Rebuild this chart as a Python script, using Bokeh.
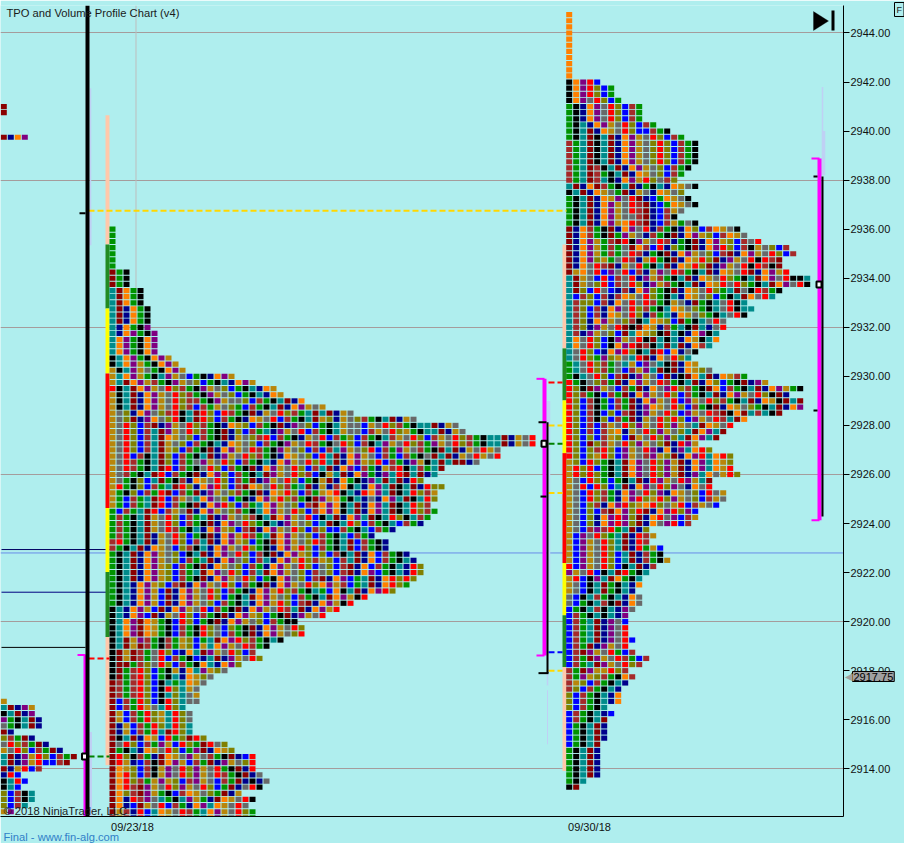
from bokeh.plotting import figure
from bokeh.models import Range1d, FixedTicker, NumeralTickFormatter, Label, PolyAnnotation
from bokeh.embed import file_html
from bokeh.resources import INLINE

# ---------- data ----------
TITLE = "TPO and Volume Profile Chart (v4)"
COPYRIGHT = "\u00a9 2018 NinjaTrader, LLC"
FOOTER = "Final - www.fin-alg.com"
DATE_LABELS = ["09/23/18", "09/30/18"]
LAST_PRICE = 2917.75
PRICE_TICKS = [2912 + 2 * i for i in range(17)]
GRID_PRICES = [2914, 2920, 2926, 2932, 2938, 2944]

PALETTE = {"k": "#000000", "g": "#009300", "r": "#FF0000", "b": "#0000FF", "n": "#00008B",
           "d": "#8B0000", "w": "#A52A2A", "t": "#008B8B", "o": "#FF8000", "p": "#800080",
           "a": "#B8860B", "l": "#808000", "y": "#696969"}

# earlier session fragments
TOP_FRAG_PRICE = [2941.0, 2940.75, 2939.75]
TOP_FRAG = ["d", "d", "dnop"]
LOW_TOP = 2916.75
LOW_ROWS = ["a", "tdnpa", "ktdnp", "pgktdn", "ygktdn", "dn", "lwgdn", "yrlwgdn", "ayrlbwgdn",
            "tdnparlbwgd", "tdnparbbwd", "dnarbw", "nrb", "ktrb", "ktb", "lbwkt", "lbwkt", "lbwt", "ap"]

# session 09/23/18
LEFT_TOP = 2936.0
LEFT_LEN = [1]*7 + [3]*3 + [5]*3 + [6]*3 + [6, 7, 7, 7, 7, 9, 10, 11, 18, 21, 24, 25, 28,
    31, 35, 44, 50, 51, 61, 61, 56, 56, 53, 48, 47, 45, 48, 47, 47, 46, 47, 46, 45, 41, 38, 40, 40,
    43, 44, 45, 45, 44, 43, 41, 37, 35, 33, 31, 27, 28, 28, 25, 23, 21, 22, 19, 17, 15, 14, 13, 13, 13,
    11, 12, 12, 12, 12, 14, 17, 18, 21, 21, 21, 22, 23, 22, 19, 21, 20, 21, 21]
LEFT_ROWS = ["g"]*7 + ["dgk"]*3 + ["tdogk"]*3 + ["tdnogk"]*3 + ["tnogkp", "tnopgkp"] + ["topgkop"]*3 + [
    "ktopgkopa", "ktopagkopa", "aktpaygkopa", "atopagktpaybgknopa", "atdopawgkpaylbgktnopa",
    "rktdopayrlwgkpaylbgktnoa", "aktdnopayrlwgkpaylbgktnoa", "aktdnopayrlwwgkpayylbwgktdno",
    "aktdnopayrlwbwgaylgbwgktdnopay",
    "aylnopylwrktdrlbrwgkdnayrlwgtdtdnay",
    "ayldnpoylrktdrlbwgknoayrbwgktdalnaylwgktdnay",
    "ayrlbwdnpayrlwgknoalbwgkdnpylbgktayybayrlwgkttdnay",
    "ayrlbwtdpayrlwgkdnlbwgtnpayrbwgktayybwayrlagkttdnay",
    "ayrlbwtdoaylbwgkdnaylwrbwgknayrbwglbwgktwayrlbwayrlwgkttdnayr",
    "ayrlbwtdaylbwgktnoaylbwgkpayrwgkyrlbwktpayrlwgpayrlwgkttdnayr",
    "ayrlbwtdalbwgkdnopayrwgkpaylbwbwtpaylrbwgpaywgkdtdnayr",
    "ayrbwktdlbwgktdnpayrlwgknoaylbrtdnopaybwgbwgkydtdnayr",
    "ayrwgktdlbwgypayrlbwgktnopayrlrtdnopalrbwgnpaktdtddnyr",
    "ayrwgktdrbwgkyrlbwgkdnopayrlbwtdnopbwgnawrktwgtdbnr",
    "aywgktdrbwgkdnoplbwgktdpayrlwbkatdnopgnptrdtdntdl",
    "aygklbtdgkwnoayrlbwgdnpayrlbgkadnogknptdtdnrl",
    "argklbwgtdrlnoprlbwdoayrlwgtdnanwoktnoptdktdnrllw",
    "agklbwgrdbwgdnpaylwgkdnoarlbwgaorktnroptdktrlw",
    "agbwgtdrbwaytopylbgknoparlwgkdpaogktnynoptdktrlw",
    "agbwgtdrbwgkdnoprlbwgtopaylbwdopoktdnoptdktrlw",
    "gbwgtdrbwaydnopaylwgktopayrlbwopoktdnoptdktrlwg",
    "gwgktdayrlbwgtdnpaylwktdopayrbktdnoptdktrlktwg",
    "gwgktdayrlbwgkdnopyrlgktnpaylbtdktrlbwgktbwgn",
    "gwgktdayrwgktnopalbwdnopayrlbwlbbwgktbwgn",
    "gwgktdnayrlbgkdnoparwgtdopaylbwgktbwgn",
    "wrgktdnayrlbwtdnopalbgkdopaylrwgktdbwgkn",
    "wgktdnoayblwktnopayrlgknoparlbwgktdbwgkn",
    "gktdnopaylbktdnopyrlbwkdnopalblbwktdnobwgkn",
    "gktdnopaylbwgtdnopylbwtnoparlwalbwtdnobwgktn",
    "gktdnopalbwgkdnoaylbwgnopayrlbylbwdnobwgktnrl",
    "gktdnopalbwgtdopyrlbwtdopaylbwylbwdnopbgktnrl",
    "gktdnopalbwgkdnopayrlbgkopylbwdnopbgtdnorlrl",
    "gktnopalbwdnopayrlbwgkdnopayrlopawbgtdnorl",
    "gktnopabdnopayrlbwgknoparlwgktgboktdnoprl",
    "gktnopabdnopayrlbgktdopaylbwgktdopakrl",
    "gktnopabdnopaylbwgktnoparlbwdnopakrl",
    "ktnopabdnopayrbwgkdnopayrwtdnopar",
    "ktnopbdnayrlbwgkdnopalbgkdnpayrl",
    "ktopdoagkbrlbgkdnopaylbwgk",
    "ktopdoagkbwgkrlyblgkdnopayrlb",
    "ktopdoagkbwgkrlybwgkdnopaylrb",
    "ktdapwgkwgalbgtdoprlwgkt",
    "ktdadwgkwgalbatopayrwgk",
    "kdadwgyrlbnotdpayrlbw",
    "kdadwgyrbwgkbntdnpayrl",
    "kddgwlyrlbwgkotnopl",
    "kdgwrlbgkanotpaly",
    "kdgwrlbgktnoalyy",
    "dwgwrlbktgtoayy",
    "dwgwrlbkrltay",
    "dwgwrlbktltya",
    "dbwgrlbkrltyy",
    "dbwgraytrlt",
    "dabwgrlatrly",
    "dabwgrlatrly",
    "dnabwgrltrlt",
    "dnabwgrtdrlt",
    "dktdnoabrgldrl",
    "dyrlbwgpabrlgdryl",
    "dgktnoayrlbgpdnoal",
    "drlkwgndoaypaywgkdnbr",
    "dranbwkdopabwgdnpaylr",
    "doalbwkapyrlpayrgkdnr",
    "dorlbwkapyrlpayrwgkdnyr",
    "dorlwgapalbwpaybwgdnknyr",
    "dorwdpayrlpayrlbgdnyrk",
    "dolwdpagkbwoaylgdnayr",
    "donrwpytgktpagndoayrk",
    "donbdayrbwgnoptoayry",
    "dawnrbtoayrwgtopayrlg",
    "dawnrbtoayrwgtopayrlg"]

# session 09/30/18
RIGHT_TOP = 2944.75
RIGHT_LEN = [1]*11 + [5, 7, 7, 8, 11, 11, 11, 13, 15, 17, 19, 19, 19, 19, 18, 17, 16, 19, 17, 18, 19, 17, 16, 19,
    25, 26, 28, 32, 33, 31, 31, 32, 35, 35, 31, 30, 26, 27, 26, 23, 23, 22, 22, 21, 19, 18, 19, 21, 26, 29, 34, 32, 34, 34, 31,
    26, 24, 23, 22, 19, 21, 24, 24, 24, 25, 21, 21, 23, 23, 22, 19, 19, 18, 12, 13, 12, 14, 14, 15, 13, 12, 11, 11, 10, 11, 11, 10, 9,
    9, 9, 9, 10, 9, 10, 12, 11, 9, 10, 9, 8, 8, 8, 6, 7, 6, 6, 6, 6, 5, 5, 5, 5, 5, 5, 3, 2]
RIGHT_ROWS = ["o"]*11 + ["koprb", "koprlbg", "koprlbg", "kopyrlbg"] + ["gknopyrlbwg"]*3 + [
    "gktnopayrlbwg", "gktdnoayrlbbwgk", "gktdktdnopayrlbwg"] + ["wgtdktdnopaylrlbwgk"]*4 + [
    "wgtdwktdnopaylbwgk", "wgtdwgktdnoaylbwgk", "wgtdwtknoparlywl",
    "tdnodwgktdngktnoayk", "ktdnoaygdnaynoaylk", "gktdnoapyrdnbgoayk", "gktdnopayrwdnbgoayk",
    "gktdnopayrwdnbwayk", "gktdnopayywdnbwk", "gktdnopaorwdnbwagyk",
    "dnowgkdnopyrnwgknolbwoayk", "dnowgkdgpaynwgkdnopalbwoay", "dnopagwdrkpayrwngkdnopalbwyrk",
    "dnopagwgydowbrnlgkdnoprlbwkaylbwk", "dnopagwgyrwngkdnopaylbwdnopayrlbwk",
    "dnoplagyrwnargkdnoarldnpayrkrw", "dnoyrwdnayrgktdnoarldnpayrkrwk",
    "daoyrbpyrbwnapyrwgktdnoayrdnoparkk", "tdaybrbwyrnpawgktdnoayrlgktdopyrkk",
    "tdaylrbwyrlnpawgktdnoaryrlgktdopyrk", "tdlbrybnwnoplgkdnoayrlgtdykrwgk",
    "tbwlbwnwoayrlgktnoaylbgktdoyr", "twllbwnoyryrwgkayndgktyrk", "twlbwnopyrlwgktoaylgktyrkt",
    "twlbwnoayrlnwgtnoaylgktyrkt", "twlnopaylwktoalbdgktyry", "twlnpayrdkdoanwgtkdtnyr",
    "twnpaylbdtoalkdtknopk", "toyrlbkpayrkdtktnoak", "toyrlbkoprdwktdtdnow", "tyrlbnoprlktdrbonyk",
    "tyrlgplaytrdnoyrl", "gtyrlwgytabpytkdnoa", "gtyrlwgybwaptdkdnoaly",
    "gktyrlbwdnpaybdnkdotdnoaw", "rgkylwgdnopayrwgktdnolbgkdnpayo",
    "rlkdpaybwgdnoyprlwgkdobwgktdnopagkdtdno", "rlwgkbwgdnopayrlbwgktdnopayrlkdnpt",
    "rlbwkgbwgdnopayrbpayrlwgktdnoakdtdno", "rlbwkgbwgdnpoayrlbwgkdnoaylgktdnoptdno",
    "rlbwkblbwdnpayrlbpayrwdkodtwtkdno",
    "rlbwklbwgdnayrlrlbpayrwtdopk", "rlbwbwayrlpayrlpaytdoayrl", "rlbwbwaonayrlpayltdoptdo",
    "rlblbwalbdayrlpltdoptdo", "rlbdlwayrlpayldnrpato", "rlblwrlbpayrpnonpto", "rlblarlbpaywpaldnoprto",
    "albrlgktdopyrlpadnopto", "arlrbgktdopyrlpadnopto", "arlrlgktdopyrlpadnptoy", "aybrlgbgktdnrpayrpatdtoy",
    "ayrbrlbtdnopyrlpynoyrl", "aybrlwgnopyrlpnoaylbry", "aybrlwgnoprlarlpaylbw", "ayblwnoprlaorlyarbw",
    "ayblbwdoplrdnoprlpbw", "ayblnoprpldnorypbw", "ayblnoprpldnoyprbw", "aybwpwrgtdnlaprlbw",
    "abpyrlgtdnrw", "abpayrltdnrwg", "abpayrltdnrg", "abpayrlbtdnwgk", "abpayrlbtdnwgk", "rbpayrlbktdnwgk",
    "payrbktdrgktno", "arbkptdogkto", "aybktdgktno", "aybktdgktno", "ybktwgktno", "ybgktwkdnoy", "bgktwktnpy",
    "bwgktktnpy", "bwgtdnpy", "bwgtdnpyr", "bwgtdnpyr", "bwgtdnpyr", "bwgdnpayrg", "bwdpayrg", "bwgdpayrwg",
    "bwgtdpayrlwgo", "wgdpaarlwgor", "wgpalwgko", "walbwgktno", "wlbwgktno", "lbwgktno", "lbwgktno", "lbwgktno",
    "bwgktn", "bwgktdn", "bgktdn", "bgktdn", "bgktdn", "bgktdn", "gktdn", "gktdn", "gktdn", "gktdn", "gktdn", "gktdn",
    "kdn", "kn"]

# colour-coded session stacks
LEFT_STACK_EDGES = [2940.65, 2935.38, 2932.77, 2930.12, 2924.63, 2922.02, 2919.37, 2914.14]
RIGHT_STACK_EDGES = [2935.38, 2931.14, 2929.02, 2926.87, 2922.39, 2920.26, 2918.15, 2913.91]
STACK_COLORS = ["#FFC8AA", "#228B22", "#FFFF00", "#FF0000", "#FFFF00", "#228B22", "#FFC8AA"]

# thin levels
SESSION_LEVELS = [2922.94, 2921.2, 2918.95]
SESSION_LEVEL_COLORS = ["#000060", "#000080", "#000000"]
BLUE_LEVEL = 2922.8
POC_LONG = 2936.75
LEFT_DASH_PRICE = [2918.5, 2914.5]
LEFT_DASH_COLOR = ["#FF0000", "#008000"]
MID_DASH_PRICE = [2929.75, 2928.0, 2927.25, 2925.25, 2918.75, 2918.0]
MID_DASH_COLOR = ["#FF0000", "#FFD700", "#008000", "#FFD700", "#0000FF", "#FFD700"]

# brackets
LEFT_MAG = (2918.64, 2911.0)
LEFT_BOX = 2914.5
LEFT_BLACK_TICK = 2936.65
MID_MAG = (2929.9, 2918.62)
MID_BLACK = (2928.13, 2917.9)
MID_TICKS = [2928.13, 2925.1, 2917.9]
MID_BOX = 2927.25
RIGHT_MAG = (2938.88, 2924.13)
RIGHT_BLACK = (2938.15, 2924.29)
RIGHT_TICKS = [2938.15, 2928.61]
RIGHT_BOX = 2933.75

# faint volume profile slivers
VOL_TOP = [2941.75, 2936.72, 2915.5, 2929.0, 2921.0, 2917.2, 2941.8, 2940.0]
VOL_BOT = [2936.0, 2935.35, 2911.5, 2921.2, 2917.4, 2915.0, 2940.0, 2938.2]
VOL_X = [90.0, 89.5, 90.0, 548.0, 547.0, 547.0, 822.0, 823.0]
VOL_W = [1.5, 3.0, 3.0, 3.5, 1.5, 1.0, 1.5, 3.5]

# ---------- figure ----------
FRAME_W, TOP, BOT = 843, 5, 27
PX = 24.53
y0 = 2944 + (32.5 - TOP) / PX
y1 = 2914 - (816 - 768.3) / PX
p = figure(width=904, height=843, frame_width=FRAME_W, frame_height=811,
           output_backend="svg", toolbar_location=None,
           x_range=Range1d(0, FRAME_W), y_range=Range1d(y1, y0),
           y_axis_location="right", min_border_left=0, min_border_top=TOP,
           min_border_right=904 - FRAME_W, min_border_bottom=BOT,
           background_fill_color="#AFEEEE", border_fill_color="#AFEEEE", outline_line_color=None)

ax = p.yaxis[0]
ax.ticker = FixedTicker(ticks=PRICE_TICKS)
ax.formatter = NumeralTickFormatter(format="0.00")
ax.major_label_text_font = "Liberation Sans"
ax.major_label_text_font_size = "11px"
ax.major_label_text_color = "#111111"
ax.major_tick_in = 0
ax.major_tick_out = 6
ax.minor_tick_line_color = None
ax.major_label_standoff = 1
ax.axis_line_color = "black"

xax = p.xaxis[0]
DATE_X = [132, 589]
xax.ticker = FixedTicker(ticks=DATE_X)
xax.major_label_overrides = {DATE_X[0]: DATE_LABELS[0], DATE_X[1]: DATE_LABELS[1]}
xax.major_label_text_font = "Liberation Sans"
xax.major_label_text_font_size = "11px"
xax.major_label_text_color = "#111111"
xax.major_tick_line_color = None
xax.minor_tick_line_color = None
xax.major_tick_in = 0
xax.major_tick_out = 0
xax.major_label_standoff = 4
xax.axis_line_color = "black"

p.xgrid.visible = False
p.ygrid.ticker = FixedTicker(ticks=GRID_PRICES)
p.ygrid.grid_line_color = "#A59C9C"
p.ygrid.grid_line_width = 1

p.segment([135.5], [y1], [135.5], [y0], line_color="#BDBDBD", line_width=1)
p.segment([1]*3, SESSION_LEVELS, [109, 109, 85], SESSION_LEVELS, line_color=SESSION_LEVEL_COLORS, line_width=1)
p.segment([0], [BLUE_LEVEL], [FRAME_W], [BLUE_LEVEL], line_color="#6A8CE8", line_width=1)

p.quad(left=[x - w / 2 for x, w in zip(VOL_X, VOL_W)], right=[x + w / 2 for x, w in zip(VOL_X, VOL_W)],
       top=VOL_TOP, bottom=VOL_BOT, fill_color="#BFD0F4", line_color=None)

for x_l, edges in ((105, LEFT_STACK_EDGES), (562, RIGHT_STACK_EDGES)):
    p.quad(left=[x_l]*7, right=[x_l + 4]*7, top=edges[:-1], bottom=edges[1:], fill_color=STACK_COLORS, line_color=None)

def cells(rows, lens, top, x0):
    xs, ys, cs = [], [], []
    for i, (row, n) in enumerate(zip(rows, lens)):
        for c in range(n):
            xs.append(x0 + 7 * c)
            ys.append(top - 0.25 * i)
            cs.append(PALETTE[row[c % len(row)]])
    return xs, ys, cs

X, Y, C = [], [], []
for rows, lens, top, x0 in ((LEFT_ROWS, LEFT_LEN, LEFT_TOP, 112), (RIGHT_ROWS, RIGHT_LEN, RIGHT_TOP, 568.7),
                            (LOW_ROWS, [len(r) for r in LOW_ROWS], LOW_TOP, 3.3)):
    a, b, c = cells(rows, lens, top, x0)
    X += a; Y += b; C += c
for pr, row in zip(TOP_FRAG_PRICE, TOP_FRAG):
    for c, ch in enumerate(row):
        X.append(3.3 + 7 * c); Y.append(pr); C.append(PALETTE[ch])
p.rect(x=X, y=Y, width=6, height=5.2 / PX, fill_color=C, line_color=None)

p.segment([88], [POC_LONG], [566], [POC_LONG], line_color="#FFD700", line_width=2, line_dash="6 3")
p.segment([88]*2, LEFT_DASH_PRICE, [109]*2, LEFT_DASH_PRICE, line_color=LEFT_DASH_COLOR, line_width=2, line_dash="6 3")
p.segment([548]*6, MID_DASH_PRICE, [562]*6, MID_DASH_PRICE, line_color=MID_DASH_COLOR, line_width=2, line_dash="6 3")

MAG = "#FF00FF"
for xc, (t, b) in ((85, LEFT_MAG), (544, MID_MAG), (819, RIGHT_MAG)):
    p.quad(left=[xc - 2], right=[xc + 2], top=[t], bottom=[b], fill_color=MAG, line_color=None)
    p.quad(left=[xc - 8], right=[xc], top=[t + 1 / PX], bottom=[t - 1 / PX], fill_color=MAG, line_color=None)
    p.quad(left=[xc - 8], right=[xc], top=[b + 1 / PX], bottom=[b - 1 / PX], fill_color=MAG, line_color=None)
p.quad(left=[85, 546, 821], right=[89, 548, 823], top=[y0, MID_BLACK[0], RIGHT_BLACK[0]],
       bottom=[y1, MID_BLACK[1], RIGHT_BLACK[1]], fill_color="black", line_color=None)
tick_p = [LEFT_BLACK_TICK] + MID_TICKS + RIGHT_TICKS
tick_l = [79, 538, 540, 538, 813, 813]
tick_r = [85, 546, 546, 548, 817, 817]
p.quad(left=tick_l, right=tick_r, top=[v + 1 / PX for v in tick_p], bottom=[v - 1 / PX for v in tick_p],
       fill_color="black", line_color=None)
p.rect(x=[84, 543.5, 818.5], y=[LEFT_BOX, MID_BOX, RIGHT_BOX], width=5, height=6 / PX,
       fill_color="white", line_color="black", line_width=2)

def tx(text, x, y, size, color="#1a1a1a", **kw):
    p.add_layout(Label(x=x, y=y, x_units="canvas", y_units="canvas", text=text,
                       text_font="Liberation Sans", text_font_size=size, text_color=color,
                       text_baseline="middle", **kw), "below")
def poly(xs, ys, fill, **kw):
    p.add_layout(PolyAnnotation(xs=xs, ys=ys, xs_units="canvas", ys_units="canvas",
                                fill_color=fill, fill_alpha=1, **kw), "below")

tx(TITLE, 6, 12, "11.2px")
tx(COPYRIGHT, 3, 810, "11.2px")
tx(FOOTER, 3, 836, "11.2px", "#2F7FC8")

poly([813, 828, 813], [11, 20.5, 30], "black", line_color="black")
poly([831, 834, 834, 831], [10, 10, 30, 30], "black", line_color="black", line_width=0)
tx("F", 894, 9, "9px", border_line_color="black", border_line_width=1, background_fill_color="#AFEEEE",
   padding=2)
tx(f"{LAST_PRICE:.2f}", 852, 676, "11px", "black", border_line_color="black", border_line_width=1,
   background_fill_color="#A0A0A0", padding=1)
tx("\u25c0", 844, 676, "10px", "#A0A0A0")

open("out.html", "w").write(file_html(p, INLINE))
